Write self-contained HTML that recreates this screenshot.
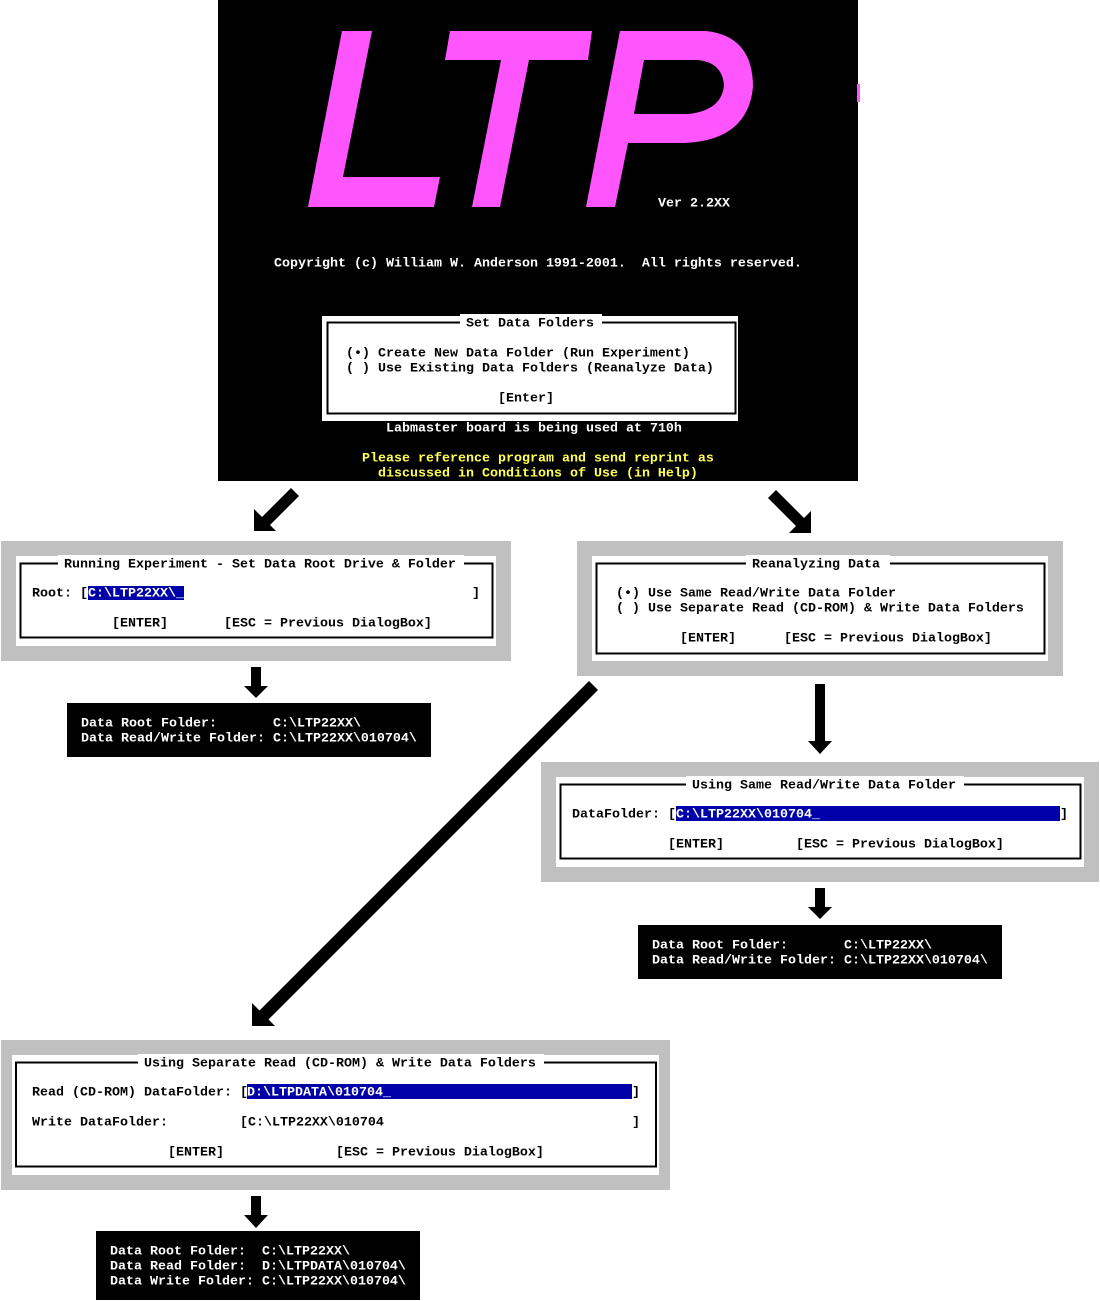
<!DOCTYPE html>
<html><head><meta charset="utf-8"><style>
html,body{margin:0;padding:0;background:#fff;}
svg{display:block;}
text{font-family:"Liberation Mono",monospace;font-size:13.33px;font-weight:bold;white-space:pre;dominant-baseline:central;transform:translateY(2px);}
</style></head><body>
<svg width="1100" height="1301" viewBox="0 0 1100 1301" xmlns="http://www.w3.org/2000/svg">
<rect x="218" y="0" width="640" height="481" fill="#000"/>
<g fill="#ff55ff">
<polygon points="342,31 372,31 343,177 440,177 434,207 308,207"/>
<polygon points="450,31 592,31 588,60 529,60 500,207 472,207 501,60 445,60"/>
<path d="M620,31 L706,31 Q753,36 753,87 Q748,140 685,143 L628,143 L615,207 L586,207 Z M644,60 L634,114 L689,114 Q722,110 724,85 Q722,62 697,60 Z" fill-rule="evenodd"/>
<rect x="857" y="84" width="3" height="18"/>
</g>
<text x="658" y="202" fill="#fff">Ver 2.2XX</text>
<text x="274" y="262" fill="#fff">Copyright (c) William W. Anderson 1991-2001.  All rights reserved.</text>
<rect x="322" y="316" width="416" height="105" fill="#fff"/>
<rect x="327.5" y="322.5" width="408" height="91" fill="none" stroke="#000" stroke-width="2"/>
<rect x="460" y="314" width="142" height="16" fill="#fff"/>
<text x="466" y="322" fill="#000">Set Data Folders</text>
<text x="346" y="352" fill="#000">(•) Create New Data Folder (Run Experiment)</text>
<text x="346" y="367" fill="#000">( ) Use Existing Data Folders (Reanalyze Data)</text>
<text x="498" y="397" fill="#000">[Enter]</text>
<text x="386" y="427" fill="#fff">Labmaster board is being used at 710h</text>
<text x="362" y="457" fill="#ffff55">Please reference program and send reprint as</text>
<text x="378" y="472" fill="#ffff55">discussed in Conditions of Use (in Help)</text>

<g fill="#000">
<polygon points="291,488 299,496 266,529 258,521"/>
<polygon points="254,531 254,509 276,531"/>
<polygon points="776,490 768,498 800,530 808,522"/>
<polygon points="811,533 811,511 789,533"/>
<polygon points="589,681 598,690 262,1026 253,1017"/>
<polygon points="252,1026 252,1003 275,1026"/>
<rect x="251" y="667" width="10" height="20"/><polygon points="244,686 268,686 256,698"/>
<rect x="815" y="684" width="10" height="58"/><polygon points="808,741 832,741 820,754"/>
<rect x="815" y="888" width="10" height="20"/><polygon points="808,907 832,907 820,919"/>
<rect x="251" y="1196" width="10" height="20"/><polygon points="244,1215 268,1215 256,1228"/>
</g>

<rect x="1" y="541" width="510" height="120" fill="#c0c0c0"/>
<rect x="16" y="556" width="480" height="90" fill="#fff"/>
<rect x="20.5" y="563.5" width="472" height="74" fill="none" stroke="#000" stroke-width="2"/>
<rect x="58" y="555" width="406" height="16" fill="#fff"/>
<text x="64" y="563">Running Experiment - Set Data Root Drive &amp; Folder</text>
<rect x="88" y="586" width="96" height="14" fill="#0000a8"/>
<text x="32" y="592">Root: [</text>
<text x="88" y="592" fill="#fff">C:\LTP22XX\_</text>
<text x="472" y="592">]</text>
<text x="112" y="622">[ENTER]       [ESC = Previous DialogBox]</text>
<rect x="67" y="703" width="364" height="54" fill="#000"/>
<text x="81" y="722" fill="#fff">Data Root Folder:       C:\LTP22XX\</text>
<text x="81" y="737" fill="#fff">Data Read/Write Folder: C:\LTP22XX\010704\</text>

<rect x="577" y="541" width="486" height="135" fill="#c0c0c0"/>
<rect x="592" y="556" width="456" height="105" fill="#fff"/>
<rect x="596.5" y="563.5" width="448" height="90" fill="none" stroke="#000" stroke-width="2"/>
<rect x="746" y="555" width="144" height="16" fill="#fff"/>
<text x="752" y="563">Reanalyzing Data</text>
<text x="616" y="592">(•) Use Same Read/Write Data Folder</text>
<text x="616" y="607">( ) Use Separate Read (CD-ROM) &amp; Write Data Folders</text>
<text x="680" y="637">[ENTER]      [ESC = Previous DialogBox]</text>

<rect x="541" y="762" width="558" height="120" fill="#c0c0c0"/>
<rect x="556" y="777" width="528" height="90" fill="#fff"/>
<rect x="560.5" y="784.5" width="520" height="74" fill="none" stroke="#000" stroke-width="2"/>
<rect x="686" y="776" width="278" height="16" fill="#fff"/>
<text x="692" y="784">Using Same Read/Write Data Folder</text>
<text x="572" y="813">DataFolder: [</text>
<rect x="676" y="806" width="384" height="15" fill="#0000a8"/>
<text x="676" y="813" fill="#fff">C:\LTP22XX\010704_</text>
<text x="1060" y="813">]</text>
<text x="668" y="843">[ENTER]         [ESC = Previous DialogBox]</text>
<rect x="638" y="925" width="364" height="54" fill="#000"/>
<text x="652" y="944" fill="#fff">Data Root Folder:       C:\LTP22XX\</text>
<text x="652" y="959" fill="#fff">Data Read/Write Folder: C:\LTP22XX\010704\</text>

<rect x="1" y="1040" width="669" height="150" fill="#c0c0c0"/>
<rect x="12" y="1055" width="647" height="120" fill="#fff"/>
<rect x="16" y="1062.5" width="640" height="104" fill="none" stroke="#000" stroke-width="2"/>
<rect x="138" y="1054" width="406" height="16" fill="#fff"/>
<text x="144" y="1062">Using Separate Read (CD-ROM) &amp; Write Data Folders</text>
<text x="32" y="1091">Read (CD-ROM) DataFolder: [</text>
<rect x="247" y="1084" width="385" height="15" fill="#0000a8"/>
<text x="247" y="1091" fill="#fff">D:\LTPDATA\010704_</text>
<text x="632" y="1091">]</text>
<text x="32" y="1121">Write DataFolder:         [C:\LTP22XX\010704</text>
<text x="632" y="1121">]</text>
<text x="168" y="1151">[ENTER]              [ESC = Previous DialogBox]</text>
<rect x="96" y="1231" width="324" height="69" fill="#000"/>
<text x="110" y="1250" fill="#fff">Data Root Folder:  C:\LTP22XX\</text>
<text x="110" y="1265" fill="#fff">Data Read Folder:  D:\LTPDATA\010704\</text>
<text x="110" y="1280" fill="#fff">Data Write Folder: C:\LTP22XX\010704\</text>
</svg>
</body></html>
